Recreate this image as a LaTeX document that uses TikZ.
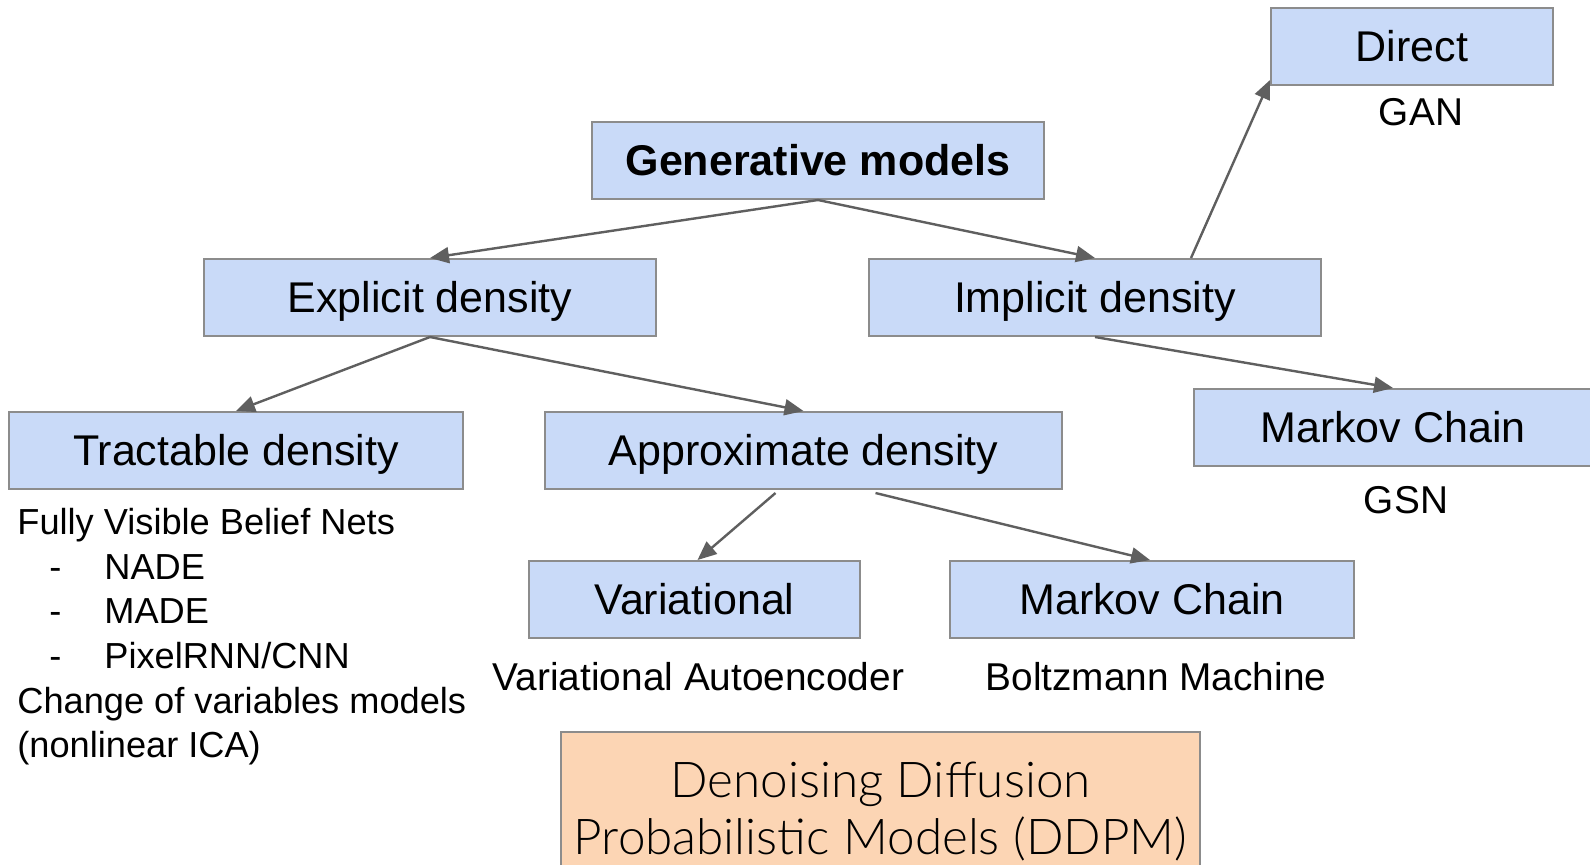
\documentclass[tikz,border=0pt]{standalone}
\usepackage{fontspec}
\setmainfont{Liberation Sans}
\newfontfamily\ddpmfont{Lato Light}
\usetikzlibrary{arrows.meta}
\definecolor{boxblue}{HTML}{C9DAF8}
\definecolor{boxline}{HTML}{8C8C8C}
\definecolor{arrowgray}{HTML}{5F5F5F}
\definecolor{ddpmfill}{HTML}{FCD5B4}
\tikzset{
  bluebox/.style={draw=boxline, fill=boxblue, line width=1pt, minimum height=38.5pt, inner sep=0pt, text height=15.4pt, text depth=0pt, font=\fontsize{21.5}{24}\selectfont},
  conn/.style={draw=arrowgray, line width=1.2pt, -{Triangle[length=9.5pt,width=8pt]}},
  lbl/.style={inner sep=0pt, text height=13.6pt, text depth=0pt, font=\fontsize{19.4}{22}\selectfont},
  listtxt/.style={inner sep=0pt, anchor=west, text height=12.9pt, text depth=0pt, font=\fontsize{18.1}{21}\selectfont},
}
\begin{document}
\begin{tikzpicture}[x=0.5pt,y=-0.5pt]
\clip (0,0) rectangle (1590,864);
\fill[white] (0,0) rectangle (1590,864);

\node[bluebox, minimum width=226pt, font=\fontsize{21.5}{24}\selectfont\bfseries] (gen) at (818,160.5) {Generative models};
\node[bluebox, minimum width=226pt] (explicit) at (430,297.5) {Explicit density};
\node[bluebox, minimum width=226pt] (implicit) at (1095,297.5) {Implicit density};
\node[bluebox, minimum width=141pt] (direct) at (1412,46.5) {Direct};
\node[bluebox, minimum width=227pt] (tractable) at (236,450.5) {Tractable density};
\node[bluebox, minimum width=258.5pt] (approx) at (803.5,450.5) {Approximate density};
\node[bluebox, minimum width=199pt] (markovR) at (1393,427.5) {Markov Chain};
\node[bluebox, minimum width=165.5pt] (variational) at (694.5,599.5) {Variational};
\node[bluebox, minimum width=202pt] (markovL) at (1152,599.5) {Markov Chain};

\node[lbl] (gan) at (1421,112) {GAN};
\node[lbl] (gsn) at (1406,499.5) {GSN};
\node[lbl] (vae) at (698.5,676.5) {Variational Autoencoder};
\node[lbl] (boltz) at (1156,676.5) {Boltzmann Machine};

\node[listtxt] (l1) at (17,522) {Fully Visible Belief Nets};
\node[listtxt] (d1) at (49,567) {-};
\node[listtxt] (l2) at (104,567) {NADE};
\node[listtxt] (d2) at (49,611) {-};
\node[listtxt] (l3) at (104,611) {MADE};
\node[listtxt] (d3) at (49,656) {-};
\node[listtxt] (l4) at (104,656) {PixelRNN/CNN};
\node[listtxt] (l5) at (17,701) {Change of variables models};
\node[listtxt] (l6) at (17,745) {(nonlinear ICA)};

\node[draw=boxline, fill=ddpmfill, line width=1pt, minimum width=319.5pt, minimum height=84pt, inner sep=0pt] (ddpm) at (880.5,816) {};
\node[inner sep=0pt, align=center, font=\ddpmfont\fontsize{24.7}{28.5}\selectfont] (ddpmtext) at (880.5,811) {Denoising Diffusion\\Probabilistic Models (DDPM)};

\draw[conn] (gen.south) -- (explicit.north);
\draw[conn] (gen.south) -- (implicit.north);
\draw[conn] ([xshift=48pt]implicit.north) -- ([yshift=3pt]direct.south west);
\draw[conn] (implicit.south) -- (markovR.north);
\draw[conn] (explicit.south) -- (tractable.north);
\draw[conn] (explicit.south) -- (approx.north);
\draw[conn] ([xshift=-14pt,yshift=-1.5pt]approx.south) -- ([xshift=1.5pt]variational.north);
\draw[conn] ([xshift=36pt,yshift=-1.5pt]approx.south) -- ([xshift=-1pt]markovL.north);
\end{tikzpicture}
\end{document}
